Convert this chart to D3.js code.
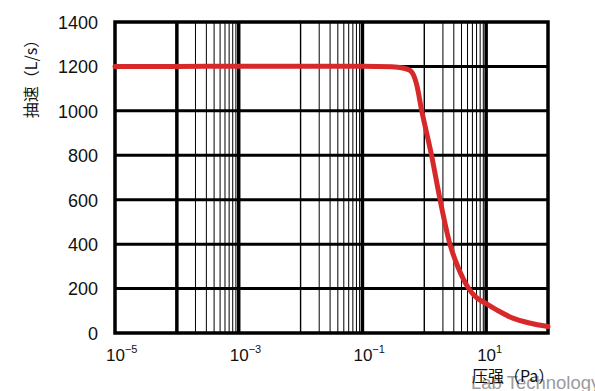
<!DOCTYPE html>
<html>
<head>
<meta charset="utf-8">
<script src="https://cdn.jsdelivr.net/npm/d3@7"></script>
<style>
  body { margin: 0; background: #fff; }
  svg { display: block; }
</style>
</head>
<body>
<div id="chart"></div>
<script>
// pumping speed vs pressure
var pressure = [1e-5, 1e-4, 1e-3, 1e-2, 0.1, 0.3, 0.45, 0.6, 0.75, 0.91, 1.31, 1.8, 2.6, 3.5, 5.1, 6.6, 10, 15, 27, 50, 100];
var speed    = [1200, 1200, 1201, 1201, 1201, 1199, 1193, 1180, 1120, 1000, 800, 600, 400, 297, 205, 165, 132, 103, 67, 45, 29];

var yTicks = [0, 200, 400, 600, 800, 1000, 1200, 1400];
var xLabelExp = [-5, -3, -1, 1];
var thickDecades = [1e-4, 1e-3, 1e-1, 1e1];
var thinDecades = [1e-2, 1e0];
var minorDecades = [1e-4, 1e-2, 1e0];

var W = 595, H = 391;
var margin = { top: 22, right: 47, bottom: 58, left: 115 };

var svg = d3.select("#chart").append("svg")
    .attr("width", W)
    .attr("height", H);

var x = d3.scaleLog().domain([1e-5, 1e2]).range([margin.left, W - margin.right]);
var y = d3.scaleLinear().domain([0, 1400]).range([H - margin.bottom, margin.top]);

var grid = svg.append("g");

// horizontal grid
grid.selectAll("line.h")
    .data(yTicks.slice(1, -1))
    .enter().append("line")
    .attr("x1", x(1e-5)).attr("x2", x(1e2))
    .attr("y1", d => y(d)).attr("y2", d => y(d))
    .attr("stroke", "#000").attr("stroke-width", 3);

// minor verticals
var minors = [];
minorDecades.forEach(function (d) {
    for (var k = 2; k <= 9; k++) minors.push(d * k);
});
grid.selectAll("line.m")
    .data(minors)
    .enter().append("line")
    .attr("x1", d => x(d)).attr("x2", d => x(d))
    .attr("y1", y(0)).attr("y2", y(1400))
    .attr("stroke", "#000").attr("stroke-width", 1);

grid.selectAll("line.t")
    .data(thinDecades)
    .enter().append("line")
    .attr("x1", d => x(d)).attr("x2", d => x(d))
    .attr("y1", y(0)).attr("y2", y(1400))
    .attr("stroke", "#000").attr("stroke-width", 1.4);

grid.selectAll("line.k")
    .data(thickDecades)
    .enter().append("line")
    .attr("x1", d => x(d)).attr("x2", d => x(d))
    .attr("y1", y(0)).attr("y2", y(1400))
    .attr("stroke", "#000").attr("stroke-width", 3.5);

// frame
svg.append("rect")
    .attr("x", x(1e-5)).attr("y", y(1400))
    .attr("width", x(1e2) - x(1e-5))
    .attr("height", y(0) - y(1400))
    .attr("fill", "none")
    .attr("stroke", "#000")
    .attr("stroke-width", 3.5);

// curve
var line = d3.line()
    .x((d, i) => x(pressure[i]))
    .y(d => y(d))
    .curve(d3.curveMonotoneX);

svg.append("path")
    .datum(speed)
    .attr("d", line)
    .attr("fill", "none")
    .attr("stroke", "#d8292a")
    .attr("stroke-width", 5)
    .attr("stroke-linecap", "round")
    .attr("stroke-linejoin", "round");

// y tick labels
svg.append("g").selectAll("text")
    .data(yTicks)
    .enter().append("text")
    .attr("x", 98)
    .attr("y", d => y(d))
    .attr("dy", "0.38em")
    .attr("text-anchor", "end")
    .attr("font-family", "Liberation Sans, Arial, sans-serif")
    .attr("font-size", "18px")
    .attr("fill", "#111")
    .text(d => d);

// x tick labels
var xl = svg.append("g").selectAll("text")
    .data(xLabelExp)
    .enter().append("text")
    .attr("x", d => x(Math.pow(10, d)) - 9)
    .attr("y", 361)
    .attr("font-family", "Liberation Sans, Arial, sans-serif")
    .attr("font-size", "17px")
    .attr("fill", "#111");
xl.append("tspan").text("10");
xl.append("tspan")
    .attr("dy", -8)
    .attr("font-size", "11px")
    .text(d => d < 0 ? "\u2212" + (-d) : d);

// watermark
svg.append("text")
    .attr("x", 471)
    .attr("y", 389)
    .attr("font-family", "Liberation Sans, Arial, sans-serif")
    .attr("font-size", "18.5px")
    .attr("fill", "#8a8a8a")
    .attr("opacity", 0.85)
    .text("Lab Technology");

// axis titles
svg.append("text")
    .attr("x", 472)
    .attr("y", 382)
    .attr("font-family", "Noto Sans CJK SC, sans-serif")
    .attr("font-size", "16px")
    .attr("fill", "#111")
    .text("压强（Pa）");

svg.append("text")
    .attr("transform", "translate(37,75) rotate(-90)")
    .attr("text-anchor", "middle")
    .attr("font-family", "Noto Sans CJK SC, sans-serif")
    .attr("font-size", "16px")
    .attr("fill", "#111")
    .text("抽速（L/s）");
</script>
</body>
</html>
